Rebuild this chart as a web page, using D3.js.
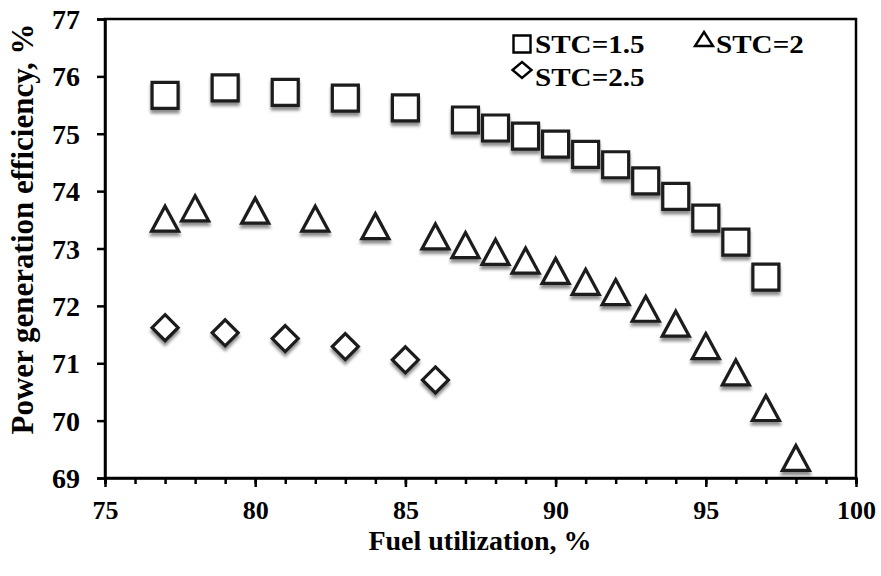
<!DOCTYPE html>
<html>
<head>
<meta charset="utf-8">
<script src="https://cdn.jsdelivr.net/npm/d3@7"></script>
<style>
  html, body { margin: 0; padding: 0; background: #fff; }
  svg { display: block; }
  text { font-family: "Liberation Serif", "Times New Roman", serif; font-weight: bold; fill: #000; }
</style>
</head>
<body>
<svg id="chart" width="881" height="576"></svg>
<script>
// Fuel utilization (%) for each steam-to-carbon ratio series
const fuelStc15 = [77, 79, 81, 83, 85, 87, 88, 89, 90, 91, 92, 93, 94, 95, 96, 97];
const effStc15  = [75.67, 75.80, 75.72, 75.62, 75.45, 75.24, 75.10, 74.96, 74.82, 74.64, 74.46, 74.18, 73.91, 73.53, 73.11, 72.50];

const fuelStc2 = [77, 78, 80, 82, 84, 86, 87, 88, 89, 90, 91, 92, 93, 94, 95, 96, 97, 98];
const effStc2  = [73.52, 73.70, 73.66, 73.52, 73.39, 73.21, 73.06, 72.94, 72.79, 72.61, 72.42, 72.24, 71.95, 71.69, 71.30, 70.84, 70.22, 69.35];

const fuelStc25 = [77, 79, 81, 83, 85, 86];
const effStc25  = [71.62, 71.53, 71.43, 71.29, 71.06, 70.71];

const seriesNames = ["STC=1.5", "STC=2", "STC=2.5"];
const xTickLabels = [75, 80, 85, 90, 95, 100];
const yTickLabels = [69, 70, 71, 72, 73, 74, 75, 76, 77];

const svg = d3.select("#chart");
const plot = { left: 105, right: 856, top: 19, bottom: 478 };

const x = d3.scaleLinear().domain([75, 100]).range([plot.left, plot.right]);
const y = d3.scaleLinear().domain([69, 77]).range([plot.bottom, plot.top]);

// soft shadow under the markers
const defs = svg.append("defs");
const f = defs.append("filter").attr("id", "shadow")
  .attr("x", "-50%").attr("y", "-50%").attr("width", "200%").attr("height", "220%");
f.append("feDropShadow").attr("dx", 0).attr("dy", 3.5).attr("stdDeviation", 1.8)
  .attr("flood-color", "#000").attr("flood-opacity", 0.45);

// plot frame
svg.append("rect")
  .attr("x", plot.left).attr("y", plot.top)
  .attr("width", plot.right - plot.left).attr("height", plot.bottom - plot.top)
  .attr("fill", "none").attr("stroke", "#000").attr("stroke-width", 2.5);

// y axis
const yAxis = svg.append("g").attr("transform", `translate(${plot.left},0)`)
  .call(d3.axisLeft(y).tickValues(yTickLabels).tickSize(8).tickPadding(17).tickFormat(d3.format("d")));
yAxis.select(".domain").attr("stroke-width", 2.5);
yAxis.selectAll(".tick line").attr("stroke-width", 2.5);
yAxis.selectAll(".tick text").attr("font-size", 28).attr("dy", "0.34em")
  .style("font-family", "'Liberation Serif', 'Times New Roman', serif").style("font-weight", "bold");

// x axis: minor ticks every unit, labelled major ticks every 5
const xMinor = svg.append("g").attr("transform", `translate(0,${plot.bottom})`)
  .call(d3.axisBottom(x).tickValues(d3.range(75, 101, 1)).tickSize(6).tickFormat(""));
xMinor.select(".domain").attr("stroke-width", 2.5);
xMinor.selectAll(".tick line").attr("stroke-width", 2.5);

const xMajor = svg.append("g").attr("transform", `translate(0,${plot.bottom})`)
  .call(d3.axisBottom(x).tickValues(xTickLabels).tickSize(9).tickPadding(14).tickFormat(d3.format("d")));
xMajor.select(".domain").remove();
xMajor.selectAll(".tick line").attr("stroke-width", 2.5);
xMajor.selectAll(".tick text").attr("font-size", 26)
  .style("font-family", "'Liberation Serif', 'Times New Roman', serif").style("font-weight", "bold");

// axis titles
svg.append("text").attr("x", 480).attr("y", 550).attr("text-anchor", "middle")
  .attr("font-size", 28).text("Fuel utilization, %");
svg.append("text").attr("transform", "translate(33,229) rotate(-90)").attr("text-anchor", "middle")
  .attr("font-size", 31).text("Power generation efficiency, %");

// marker shapes
const sq = 26, tri = 27, dia = 26;
const squarePath = s => `M${-s/2},${-s/2}H${s/2}V${s/2}H${-s/2}Z`;
const trianglePath = (w, h) => `M0,${-h/2}L${w/2},${h/2}L${-w/2},${h/2}Z`;
const diamondPath = (w, h) => `M0,${-h/2}L${w/2},0L0,${h/2}L${-w/2},0Z`;

const markerStyle = sel => sel.attr("fill", "#fff").attr("stroke", "#1a1a1a")
  .attr("stroke-width", 3.2).attr("stroke-linejoin", "miter").attr("filter", "url(#shadow)");

const s1 = fuelStc15.map((v, i) => ({ x: v, y: effStc15[i] }));
const s2 = fuelStc2.map((v, i) => ({ x: v, y: effStc2[i] }));
const s3 = fuelStc25.map((v, i) => ({ x: v, y: effStc25[i] }));

svg.append("g").selectAll("path").data(s3).join("path")
  .attr("d", diamondPath(dia, dia))
  .attr("transform", d => `translate(${x(d.x)},${y(d.y)})`).call(markerStyle);

svg.append("g").selectAll("path").data(s2).join("path")
  .attr("d", trianglePath(tri, 25))
  .attr("transform", d => `translate(${x(d.x)},${y(d.y)})`).call(markerStyle);

svg.append("g").selectAll("path").data(s1).join("path")
  .attr("d", squarePath(sq))
  .attr("transform", d => `translate(${x(d.x)},${y(d.y)})`).call(markerStyle);

// legend
const legend = svg.append("g");
const legendItems = [
  { name: seriesNames[0], icon: squarePath(17), ix: 522, iy: 44, tx: 535, ty: 53 },
  { name: seriesNames[1], icon: trianglePath(18, 14), ix: 704, iy: 39, tx: 716, ty: 53 },
  { name: seriesNames[2], icon: diamondPath(19, 16), ix: 522, iy: 70, tx: 535, ty: 86 }
];
legendItems.forEach(d => {
  legend.append("path").attr("d", d.icon).attr("transform", `translate(${d.ix},${d.iy})`)
    .attr("fill", "#fff").attr("stroke", "#000").attr("stroke-width", 2.4);
  legend.append("text").attr("transform", `translate(${d.tx},${d.ty}) scale(1.12,1)`)
    .attr("font-size", 26).text(d.name);
});
</script>
</body>
</html>
